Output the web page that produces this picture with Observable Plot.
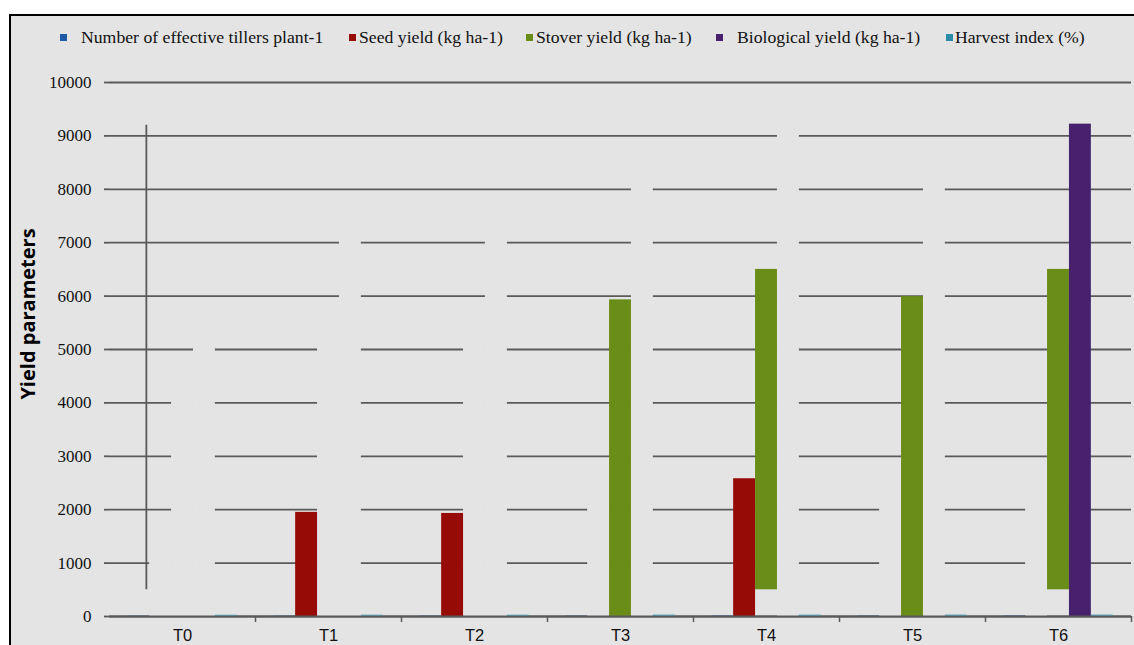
<!DOCTYPE html>
<html>
<head>
<meta charset="utf-8">
<script src="https://cdn.jsdelivr.net/npm/d3@7"></script>
<script src="https://cdn.jsdelivr.net/npm/@observablehq/plot@0.6"></script>
<style>
  html, body { margin: 0; padding: 0; background: #fff; }
  #wrap { position: relative; width: 1134px; height: 645px; overflow: hidden; }
  #box { position: absolute; left: 9px; top: 14px; width: 1150px; height: 660px;
         background: #e4e4e4; border-left: 2px solid #000; border-top: 2px solid #000; }
  #chart { position: absolute; left: 0; top: 0; }
  .leg { position: absolute; top: 26px; height: 22px; font-family: "Liberation Serif", serif;
         font-size: 17.7px; color: #111; white-space: nowrap; line-height: 22px; }
  .sw { position: absolute; top: 34px; width: 7px; height: 7px; }
  #ytitle { position: absolute; left: 27px; top: 314px; transform: translate(-50%, -50%) rotate(-90deg);
            font-family: "Open Sans", sans-serif; font-weight: 700; font-size: 20px; color: #000;
            white-space: nowrap; }
</style>
</head>
<body>
<div id="wrap">
  <div id="box"></div>
  <div id="chart"></div>
  <div id="ytitle">Yield parameters</div>
</div>
<script>
// ---- data ----
const groups = ["T0", "T1", "T2", "T3", "T4", "T5", "T6"];
const seriesNames = [
  "Number of effective tillers plant-1",
  "Seed yield (kg ha-1)",
  "Stover yield (kg ha-1)",
  "Biological yield (kg ha-1)",
  "Harvest index (%)"
];
const seriesColors = ["#1f5aa8", "#960b06", "#6a8c18", "#48216d", "#6ab6cf"];
const legendColors = ["#1f5aa8", "#960b06", "#6a8c18", "#48216d", "#2a8ca8"];

const tillers         = [4.2, 5.6, 5.8, 6.1, 6.8, 6.3, 7.0];
const seedYield       = [1450, 1950, 1930, 2400, 2580, 2500, 2700];
const stoverYield     = [4300, 5400, 5300, 5930, 6500, 5990, 6500];
const stoverBase      = [0, 0, 0, 0, 500, 0, 500];
const biologicalYield = [5750, 7350, 7230, 8330, 9080, 8490, 9220];
const harvestIndex    = [25.2, 26.5, 26.7, 28.8, 28.4, 29.4, 29.3];

// bars that the source draws in the plot-area colour (only visible as gaps in the gridlines)
const seedShown   = [false, true, true, false, true, false, false];
const stoverShown = [false, false, false, true, true, true, true];
const bioShown    = [false, false, false, false, false, false, true];

const yTicks = [0, 1000, 2000, 3000, 4000, 5000, 6000, 7000, 8000, 9000, 10000];
const dropLine = [{group: "T0", from: 500, to: 9200}];

// ---- style ----
const BG = "#e4e4e4";
const GRID = "#5a5a5a";
const slot = 0.15, outer = 0.125;

const rows = [];
groups.forEach((g, i) => {
  const vals = [
    [0, tillers[i], true],
    [0, seedYield[i], seedShown[i]],
    [stoverBase[i], stoverYield[i], stoverShown[i]],
    [0, biologicalYield[i], bioShown[i]],
    [0, harvestIndex[i], true]
  ];
  vals.forEach(([b, v, s], k) => rows.push({group: g, i, k, y1: b, y2: v, shown: s, color: seriesColors[k]}));
});
const bx1 = d => d.i - 0.5 + outer + slot * d.k;
const bx2 = d => bx1(d) + slot;

const chart = Plot.plot({
  width: 1134,
  height: 645,
  marginTop: 82,
  marginBottom: 29,
  marginLeft: 109,
  marginRight: 3,
  style: {background: "transparent", overflow: "visible", color: "#111"},
  x: {domain: [-0.5, 6.5]},
  y: {domain: [0, 10000]},
  color: {type: "identity"},
  marks: [
    Plot.gridY(yTicks, {stroke: GRID, strokeOpacity: 1, strokeWidth: 1.8}),
    Plot.axisY(yTicks, {tickSize: 5, stroke: GRID, strokeWidth: 1.8, tickFormat: () => "", label: null}),
    Plot.text(yTicks, {y: d => d, frameAnchor: "left", textAnchor: "end", dx: -18, text: d => String(d),
      fill: "#111", fontSize: 17, fontFamily: "Liberation Serif", className: "ylab"}),
    Plot.rectY(rows.filter(d => !d.shown), {x1: bx1, x2: bx2, y1: "y1", y2: "y2", fill: BG}),
    Plot.rectY(rows.filter(d => d.shown), {x1: bx1, x2: bx2, y1: "y1", y2: "y2", fill: "color"}),
    Plot.ruleX(dropLine, {x: d => groups.indexOf(d.group) - 0.5 + outer + slot * 0.85, y1: "from", y2: "to",
      stroke: GRID, strokeWidth: 1.8}),
    Plot.ruleY([0], {stroke: GRID, strokeWidth: 2}),
    Plot.axisX(groups.map((g, i) => i + 0.5), {tickSize: 6, stroke: GRID, strokeWidth: 1.5,
      tickFormat: () => "", label: null}),
    Plot.text(groups, {x: (d, i) => i, y: () => 0, dy: 19, text: d => d, fill: "#111",
      fontSize: 16.5, fontFamily: "Liberation Sans", className: "xlab"})
  ]
});
document.getElementById("chart").appendChild(chart);

// force the fonts inline on the text nodes
d3.select(chart).selectAll(".ylab text")
  .style("font-family", "'Liberation Serif', 'Times New Roman', serif").style("font-size", "17px");
d3.select(chart).selectAll(".xlab text")
  .style("font-family", "'Liberation Sans', Arial, sans-serif").style("font-size", "16.5px");

// legend
const legendLeft = [[60, 81], [349, 359], [526, 536], [716, 737], [946, 955]];
const wrap = document.getElementById("wrap");
seriesNames.forEach((name, k) => {
  const sw = document.createElement("div");
  sw.className = "sw";
  sw.style.left = legendLeft[k][0] + "px";
  sw.style.background = legendColors[k];
  wrap.appendChild(sw);
  const t = document.createElement("div");
  t.className = "leg";
  t.style.left = legendLeft[k][1] + "px";
  t.textContent = name;
  wrap.appendChild(t);
});
</script>
</body>
</html>
